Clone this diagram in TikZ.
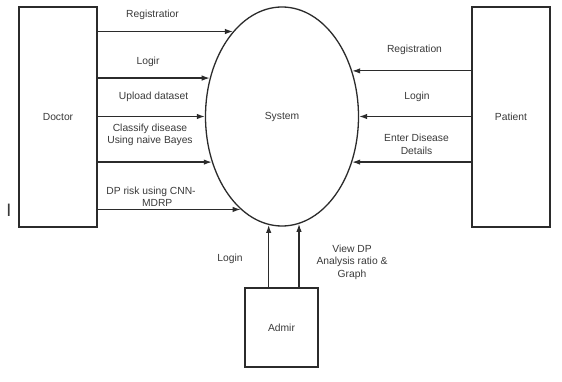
\documentclass[tikz,border=0pt]{standalone}
\usepackage{fontspec}
\setmainfont{Liberation Sans}
\usetikzlibrary{shapes.geometric,arrows.meta}
\definecolor{ln}{HTML}{2B2B2B}
\definecolor{tx}{HTML}{3A3A3A}
\tikzset{
  box/.style={draw=ln, line width=1.3pt, rectangle, inner sep=0pt, text=tx},
  sysnode/.style={draw=ln, line width=1.3pt, ellipse, inner sep=0pt, minimum width=153, minimum height=219, text=tx},
  arr/.style={draw=ln, line width=1.2pt, -{Latex[length=8pt,width=5.5pt]}},
  lbl/.style={text=tx, align=center, inner sep=0pt, font=\fontsize{10.3}{12.5}\selectfont}
}
\begin{document}
\begin{tikzpicture}[x=1pt, y=-1pt, every node/.style={font=\fontsize{10.3}{12.5}\selectfont}]
\useasboundingbox (0,0) rectangle (562,382);
\fill[white] (0,0) rectangle (562,382);
% main nodes
\node[box, minimum width=78, minimum height=220] (doctor) at (58,117) {Doctor};
\node[box, minimum width=78, minimum height=220] (patient) at (511,117) {Patient};
\node[box, minimum width=73, minimum height=79] (admin) at (281.5,327.5) {Admir};
\node[sysnode] (sys) at (282,116.5) {System};
% doctor flows
\draw[arr] (doctor.east |- sys.120.7) -- (sys.120.7);
\draw[arr] (doctor.east |- sys.152.5) -- (sys.152.5);
\draw[arr] (doctor.east |- sys.180) -- (sys.180);
\draw[arr] (doctor.east |- sys.213.9) -- (sys.213.9);
\draw[arr] (doctor.east |- sys.246.9) -- (sys.246.9);
% patient flows
\draw[arr] (patient.west |- sys.33.9) -- (sys.33.9);
\draw[arr] (patient.west |- sys.0) -- (sys.0);
\draw[arr] (patient.west |- sys.-33.9) -- (sys.-33.9);
% admin flows
\draw[arr] (admin.north -| sys.263.1) -- (sys.263.1);
\draw[arr] (admin.north -| sys.279.6) -- (sys.279.6);
% labels
\node[lbl] (l1) at (152.5,15) {Registratior};
\node[lbl] (l2) at (148,62) {Logir};
\node[lbl] (l3) at (153.5,97) {Upload dataset};
\node[lbl] (l4) at (150,135) {Classify disease\\Using naive Bayes};
\node[lbl] (l5) at (151,197) {DP risk using CNN-\\\hspace*{1.2em}MDRP};
\node[lbl] (r1) at (414.5,50) {Registration};
\node[lbl] (r2) at (417,97) {Login};
\node[lbl] (r3) at (416.5,144.5) {Enter Disease\\Details};
\node[lbl] (a1) at (230,259) {Login};
\node[lbl] (a2) at (352,262) {View DP\\Analysis ratio \&\\Graph};
\node[lbl, font=\fontsize{18}{18}\selectfont] (mark) at (9,210) {I};
\end{tikzpicture}
\end{document}
